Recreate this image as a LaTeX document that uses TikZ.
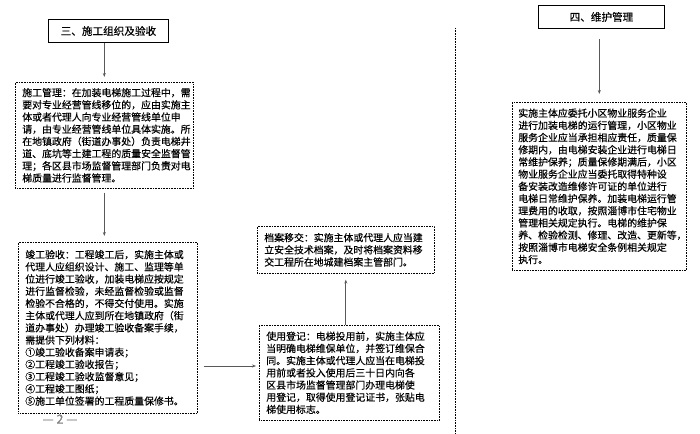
\documentclass[tikz,border=0pt]{standalone}
\usepackage{fontspec}
\setmainfont{Noto Sans CJK SC}[FakeBold=0.3]
\usetikzlibrary{arrows.meta}
\begin{document}
\begin{tikzpicture}[x=1pt,y=-1pt,
  titlebox/.style={draw=black,line width=0.9pt,minimum height=23pt,anchor=north west,inner sep=0pt,font=\fontsize{10.6}{12}\selectfont},
  textbox/.style={draw=black,line width=0.6pt,dash pattern=on 0.7pt off 0.9pt,anchor=north west,inner xsep=7pt,inner ysep=0pt,align=left,font=\fontsize{9.9}{12.2}\selectfont},
  arr/.style={draw=black!65,line width=0.8pt,-{Stealth[length=4pt,width=3pt]}}
]
\useasboundingbox (0,0) rectangle (700,433);

% left column
\node[titlebox,minimum width=120pt] (t1) at (48,19) {三、施工组织及验收};

\node[textbox,minimum width=178pt,minimum height=106pt,text width=164pt] (b2) at (15,82) {%
施工管理：在加装电梯施工过程中，需\\
要对专业经营管线移位的，应由实施主\\
体或者代理人向专业经营管线单位申\\
请，由专业经营管线单位具体实施。所\\
在地镇政府（街道办事处）负责电梯井\\
道、底坑等土建工程的质量安全监督管\\
理；各区县市场监督管理部门负责对电\\
梯质量进行监督管理。};

\node[textbox,minimum width=179pt,minimum height=171pt,text width=165pt] (b3) at (18,242) {%
竣工验收：工程竣工后，实施主体或\\
代理人应组织设计、施工、监理等单\\
位进行竣工验收，加装电梯应按规定\\
进行监督检验，未经监督检验或监督\\
检验不合格的，不得交付使用。实施\\
主体或代理人应到所在地镇政府（街\\
道办事处）办理竣工验收备案手续，\\
需提供下列材料：\\
①竣工验收备案申请表；\\
②工程竣工验收报告；\\
③工程竣工验收监督意见；\\
④工程竣工图纸；\\
⑤施工单位签署的工程质量保修书。};

\node[text=black!50,font=\fontsize{12.5}{14}\selectfont] (pg) at (60,419) {— 2 —};

% middle column
\node[textbox,minimum width=180pt,minimum height=95pt,text width=166pt] (b4) at (259,325) {%
使用登记：电梯投用前，实施主体应\\
当明确电梯维保单位，并签订维保合\\
同。实施主体或代理人应当在电梯投\\
用前或者投入使用后三十日内向各\\
区县市场监督管理部门办理电梯使\\
用登记，取得使用登记证书，张贴电\\
梯使用标志。};

\node[textbox,minimum width=177pt,minimum height=47pt,text width=163pt] (b5) at (257,226) {%
档案移交：实施主体或代理人应当建\\
立安全技术档案，及时将档案资料移\\
交工程所在地城建档案主管部门。};

% separator
\coordinate (sepA) at (455,28);
\coordinate (sepB) at (455,433);
\draw[black,line width=0.7pt,dash pattern=on 0.7pt off 0.9pt] (sepA) -- (sepB);

% right column
\node[titlebox,minimum width=126pt] (t2) at (538,5) {四、维护管理};

\node[textbox,minimum width=174pt,minimum height=168pt,text width=162pt,inner xsep=6pt] (b6) at (512,102) {%
实施主体应委托小区物业服务企业\\
进行加装电梯的运行管理，小区物业\\
服务企业应当承担相应责任，质量保\\
修期内，由电梯安装企业进行电梯日\\
常维护保养；质量保修期满后，小区\\
物业服务企业应当委托取得特种设\\
备安装改造维修许可证的单位进行\\
电梯日常维护保养。加装电梯运行管\\
理费用的收取，按照淄博市住宅物业\\
管理相关规定执行。电梯的维护保\\
养、检验检测、修理、改造、更新等，\\
按照淄博市电梯安全条例相关规定\\
执行。};

% connectors
\coordinate (ay) at (0,366);
\draw[arr,shorten >=5pt] (t1.south -| b2.north) -- (b2.north);
\draw[arr,shorten <=4pt,shorten >=6pt] (b2.south) -- (b2.south |- b3.north);
\draw[arr,shorten <=6pt,shorten >=3pt] (b3.east |- ay) -- (b4.west |- ay);
\draw[arr,shorten >=6pt] (b5.south |- b4.north) -- (b5.south);
\draw[arr,shorten <=10pt,shorten >=8pt] (b6.north |- t2.south) -- (b6.north);
\end{tikzpicture}
\end{document}
